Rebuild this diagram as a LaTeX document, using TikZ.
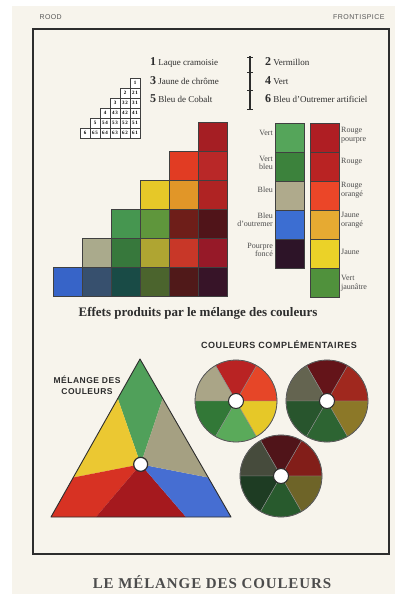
\documentclass[tikz,border=0pt]{standalone}
\usepackage{fontspec}
\setmainfont{Liberation Serif}
\newfontfamily\capsans[LetterSpace=6]{Liberation Sans}
\newfontfamily\titlefont[LetterSpace=6]{Liberation Serif}
\usetikzlibrary{calc}

% paper and ink
\definecolor{paper}{RGB}{247,244,236}
\definecolor{ink}{RGB}{45,45,45}
% mixing table
\definecolor{g16}{RGB}{165,30,35}
\definecolor{g25}{RGB}{225,60,35}
\definecolor{g26}{RGB}{185,40,40}
\definecolor{g34}{RGB}{230,200,40}
\definecolor{g35}{RGB}{225,150,40}
\definecolor{g36}{RGB}{175,35,35}
\definecolor{g43}{RGB}{70,150,80}
\definecolor{g44}{RGB}{95,150,60}
\definecolor{g45}{RGB}{110,30,25}
\definecolor{g46}{RGB}{80,20,25}
\definecolor{g52}{RGB}{170,170,140}
\definecolor{g53}{RGB}{55,120,60}
\definecolor{g54}{RGB}{175,165,50}
\definecolor{g55}{RGB}{200,55,40}
\definecolor{g56}{RGB}{150,25,40}
\definecolor{g61}{RGB}{55,100,200}
\definecolor{g62}{RGB}{55,80,110}
\definecolor{g63}{RGB}{25,75,70}
\definecolor{g64}{RGB}{75,100,45}
\definecolor{g65}{RGB}{80,25,25}
\definecolor{g66}{RGB}{55,20,40}
% side columns
\definecolor{l1}{RGB}{85,165,90}
\definecolor{l2}{RGB}{60,130,60}
\definecolor{l3}{RGB}{175,170,140}
\definecolor{l4}{RGB}{60,110,210}
\definecolor{l5}{RGB}{45,20,40}
\definecolor{r1}{RGB}{175,30,35}
\definecolor{r2}{RGB}{185,35,35}
\definecolor{r3}{RGB}{235,70,40}
\definecolor{r4}{RGB}{230,170,50}
\definecolor{r5}{RGB}{235,210,40}
\definecolor{r6}{RGB}{80,145,60}
% triangle
\definecolor{tgreen}{RGB}{80,160,90}
\definecolor{tyellow}{RGB}{235,200,50}
\definecolor{tred}{RGB}{215,50,35}
\definecolor{tcrimson}{RGB}{165,25,30}
\definecolor{tblue}{RGB}{70,110,210}
\definecolor{tgray}{RGB}{165,160,130}
% wheels
\definecolor{w11}{RGB}{230,70,40}
\definecolor{w12}{RGB}{185,35,35}
\definecolor{w13}{RGB}{170,165,135}
\definecolor{w14}{RGB}{50,120,55}
\definecolor{w15}{RGB}{90,170,90}
\definecolor{w16}{RGB}{230,200,40}
\definecolor{w21}{RGB}{160,40,30}
\definecolor{w22}{RGB}{100,20,25}
\definecolor{w23}{RGB}{100,100,80}
\definecolor{w24}{RGB}{40,85,45}
\definecolor{w25}{RGB}{45,100,50}
\definecolor{w26}{RGB}{140,120,40}
\definecolor{w31}{RGB}{130,30,25}
\definecolor{w32}{RGB}{80,20,25}
\definecolor{w33}{RGB}{70,75,60}
\definecolor{w34}{RGB}{30,60,35}
\definecolor{w35}{RGB}{40,90,45}
\definecolor{w36}{RGB}{110,100,40}

\begin{document}
\begin{tikzpicture}[x=1pt, y=-1pt,
    cell/.style={draw=black!75, line width=0.6pt},
    numcell/.style={draw=black!75, line width=0.5pt, fill=white, minimum size=10pt,
        inner sep=0pt, font=\bfseries\fontsize{5}{5}\selectfont},
    legend/.style={anchor=west, inner sep=0pt, text=ink, font=\fontsize{9}{9}\selectfont},
    lbl/.style={inner sep=0pt, text=ink!85, font=\fontsize{8}{8.5}\selectfont},
    heading/.style={inner sep=0pt, text=ink, font=\capsans\bfseries\fontsize{8.5}{11}\selectfont, align=center}]
    \useasboundingbox (0,0) rectangle (395,594);
    \fill[white] (0,0) rectangle (395,594);
    \fill[paper] (12,6) rectangle (395,594);

    % header and frame
    \node[anchor=west, text=ink!80, font=\capsans\fontsize{7}{7}\selectfont] (hdl) at (36,17) {ROOD};
    \node[anchor=east, text=ink!80, font=\capsans\fontsize{7}{7}\selectfont] (hdr) at (388,17) {FRONTISPICE};
    \draw[ink, line width=2.6pt] (33,29) rectangle (389,554);

    % legend of the six colours
    \node[legend] (p1) at (150,62) {\textbf{\large 1} Laque cramoisie};
    \node[legend] (p3) at (150,81) {\textbf{\large 3} Jaune de chrôme};
    \node[legend] (p5) at (150,99) {\textbf{\large 5} Bleu de Cobalt};
    \node[legend] (p2) at (265,62) {\textbf{\large 2} Vermillon};
    \node[legend] (p4) at (265,81) {\textbf{\large 4} Vert};
    \node[legend] (p6) at (265,99) {\textbf{\large 6} Bleu d'Outremer artificiel};
    \draw[ink, line width=1.2pt] (250,56) -- (250,110);
    \foreach \ty in {57,72,90,109}
        \draw[ink, line width=0.6pt] (247,\ty) -- (253,\ty);

    % key of the mixtures
    \foreach \r in {1,...,6}{
        \pgfmathtruncatemacro\last{\r-1}
        \foreach \m in {0,...,\last}{
            \pgfmathtruncatemacro\j{\r-\m}
            \node[numcell] (n-\r-\m) at ({85+10*(6-\r+\m)}, {83+10*(\r-1)})
                {\ifnum\m=0 \r\else\r\,\j\fi};
        }
    }

    % table of mixtures
    \foreach \r/\c/\col in {1/6/g16, 2/5/g25, 2/6/g26, 3/4/g34, 3/5/g35, 3/6/g36,
        4/3/g43, 4/4/g44, 4/5/g45, 4/6/g46, 5/2/g52, 5/3/g53, 5/4/g54, 5/5/g55, 5/6/g56,
        6/1/g61, 6/2/g62, 6/3/g63, 6/4/g64, 6/5/g65, 6/6/g66}
        \draw[cell, fill=\col] ({53+29*(\c-1)}, {122+29*(\r-1)}) rectangle ++(29,29);

    % columns of named colours
    \foreach \k/\col in {1/l1, 2/l2, 3/l3, 4/l4, 5/l5}
        \draw[cell, fill=\col] (275, {123+29*(\k-1)}) rectangle ++(29,29);
    \foreach \k/\col in {1/r1, 2/r2, 3/r3, 4/r4, 5/r5, 6/r6}
        \draw[cell, fill=\col] (310, {123+29*(\k-1)}) rectangle ++(29,29);

    \node[lbl, anchor=east, align=right] (vert) at (273,133) {Vert};
    \node[lbl, anchor=east, align=right] (vbleu) at (273,163) {Vert\\bleu};
    \node[lbl, anchor=east, align=right] (bleu) at (273,190) {Bleu};
    \node[lbl, anchor=east, align=right] (boutre) at (273,220) {Bleu\\d'outremer};
    \node[lbl, anchor=east, align=right] (pourpre) at (273,250) {Pourpre\\foncé};
    \node[lbl, anchor=west, align=left] (rpourpre) at (341,135) {Rouge\\pourpre};
    \node[lbl, anchor=west, align=left] (rouge) at (341,162) {Rouge};
    \node[lbl, anchor=west, align=left] (rorange) at (341,190) {Rouge\\orangé};
    \node[lbl, anchor=west, align=left] (jorange) at (341,220) {Jaune\\orangé};
    \node[lbl, anchor=west, align=left] (jaune) at (341,252) {Jaune};
    \node[lbl, anchor=west, align=left] (vjaune) at (341,283) {Vert\\jaunâtre};

    \node[inner sep=0pt, text=ink, font=\bfseries\fontsize{13}{13}\selectfont] (effets) at (198,313)
        {Effets produits par le mélange des couleurs};

    % triangle of mixtures
    \coordinate (tA) at (140,359);
    \coordinate (tB) at (51,517);
    \coordinate (tC) at (231,517);
    \coordinate (tG) at ($1/3*(tA)+1/3*(tB)+1/3*(tC)$);
    \fill[tgreen] (tG) -- ($(tA)!0.25!(tB)$) -- (tA) -- ($(tA)!0.25!(tC)$) -- cycle;
    \fill[tyellow] (tG) -- ($(tA)!0.25!(tB)$) -- ($(tA)!0.75!(tB)$) -- cycle;
    \fill[tred] (tG) -- ($(tA)!0.75!(tB)$) -- (tB) -- ($(tB)!0.25!(tC)$) -- cycle;
    \fill[tcrimson] (tG) -- ($(tB)!0.25!(tC)$) -- ($(tB)!0.75!(tC)$) -- cycle;
    \fill[tblue] (tG) -- ($(tB)!0.75!(tC)$) -- (tC) -- ($(tA)!0.75!(tC)$) -- cycle;
    \fill[tgray] (tG) -- ($(tA)!0.75!(tC)$) -- ($(tA)!0.25!(tC)$) -- cycle;
    \draw[ink, line width=0.9pt, line join=round] (tA) -- (tB) -- (tC) -- cycle;
    \draw[ink, line width=1.2pt, fill=white] (tG) circle (7);
    \node[heading] (melange) at (87,385) {MÉLANGE DES\\COULEURS};

    % complementary wheels
    \node[heading, font=\capsans\bfseries\fontsize{9}{9}\selectfont] (compl) at (279,345)
        {COULEURS COMPLÉMENTAIRES};
    \foreach \wx/\wy/\wn in {236/401/1, 327/401/2, 281/476/3}{
        \coordinate (wheel\wn) at (\wx,\wy);
        \foreach \a/\k in {0/1, 60/2, 120/3, 180/4, 240/5, 300/6}
            \filldraw[fill=w\wn\k, draw=black!45, line width=0.4pt] (wheel\wn) -- ++(-\a:41)
                arc[start angle=-\a, end angle={-\a-60}, radius=41] -- cycle;
        \draw[ink!80, line width=0.8pt] (wheel\wn) circle (41);
        \draw[ink, line width=1pt, fill=white] (wheel\wn) circle (7.5);
    }

    % title
    \node[inner sep=0pt, text=ink!85, font=\titlefont\bfseries\fontsize{15}{15}\selectfont] (title) at (212,582)
        {LE MÉLANGE DES COULEURS};
\end{tikzpicture}
\end{document}
